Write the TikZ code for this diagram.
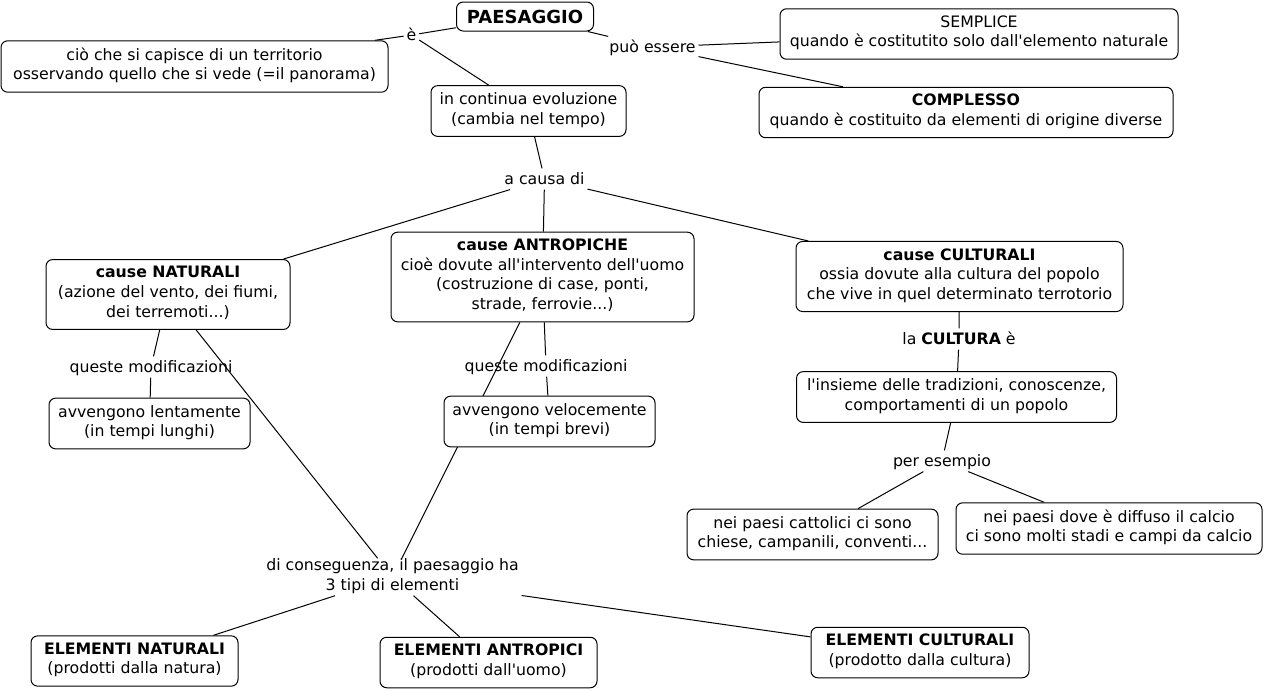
\documentclass[tikz,border=0pt]{standalone}
\usepackage{fontspec}
\setmainfont{DejaVu Sans}[Ligatures=TeXOff]
\usepackage{tikz}
\usetikzlibrary{backgrounds}

\newcommand{\mapstrut}{\rule[-4pt]{0pt}{15.5pt}}
\tikzset{
  concept/.style={draw, fill=white, rounded corners=5pt, line width=0.75pt,
    align=center, inner xsep=6pt, inner ysep=5.2pt,
    font=\fontsize{11.8pt}{14.7pt}\selectfont,
    execute at begin node=\mapstrut, execute at end node=\mapstrut},
  rootconcept/.style={draw, fill=white, rounded corners=5pt, line width=0.75pt,
    inner sep=0pt, minimum width=102.75pt, minimum height=21.75pt,
    font=\fontsize{13.5pt}{16pt}\selectfont\bfseries},
  linkphrase/.style={align=center, inner xsep=2pt, inner ysep=0pt,
    font=\fontsize{11.8pt}{14.7pt}\selectfont,
    execute at begin node=\mapstrut, execute at end node=\mapstrut},
  link/.style={line width=0.75pt}
}

\begin{document}
\begin{tikzpicture}[x=0.75pt, y=-0.75pt]
  \useasboundingbox (0,0) rectangle (1264,690);

  % concetti
  \node[rootconcept] (paes) at (525,16.5) {PAESAGGIO};
  \node[concept, minimum width=290.25pt] (cio) at (194.5,66.5) {ciò che si capisce di un territorio\\osservando quello che si vede (=il panorama)};
  \node[concept, minimum width=146.25pt] (evol) at (528.5,111) {in continua evoluzione\\(cambia nel tempo)};
  \node[concept, minimum width=298.5pt] (sempl) at (979,34) {SEMPLICE\\quando è costitutito solo dall'elemento naturale};
  \node[concept, minimum width=310.5pt] (compl) at (966,112.5) {\textbf{COMPLESSO}\\quando è costituito da elementi di origine diverse};
  \node[concept, minimum width=183pt] (nat) at (168,294.5) {\textbf{cause NATURALI}\\(azione del vento, dei fiumi,\\dei terremoti...)};
  \node[concept, minimum width=227.25pt] (antr) at (542.5,277) {\textbf{cause ANTROPICHE}\\cioè dovute all'intervento dell'uomo\\(costruzione di case, ponti,\\strade, ferrovie...)};
  \node[concept, minimum width=245.25pt] (cult) at (959.5,276.5) {\textbf{cause CULTURALI}\\ossia dovute alla cultura del popolo\\che vive in quel determinato terrotorio};
  \node[concept, minimum width=150.75pt] (lent) at (149.5,423.5) {avvengono lentamente\\(in tempi lunghi)};
  \node[concept, minimum width=158.25pt] (veloc) at (549.5,421.5) {avvengono velocemente\\(in tempi brevi)};
  \node[concept, minimum width=240pt] (insieme) at (956.5,397) {l'insieme delle tradizioni, conoscenze,\\comportamenti di un popolo};
  \node[concept, minimum width=188.25pt] (catt) at (812.5,534.5) {nei paesi cattolici ci sono\\chiese, campanili, conventi...};
  \node[concept, minimum width=229.5pt] (calcio) at (1109,528.5) {nei paesi dove è diffuso il calcio\\ci sono molti stadi e campi da calcio};
  \node[concept, minimum width=155.25pt] (elnat) at (134.5,661) {\textbf{ELEMENTI NATURALI}\\(prodotti dalla natura)};
  \node[concept, minimum width=162.75pt] (elant) at (488.5,662.5) {\textbf{ELEMENTI ANTROPICI}\\(prodotti dall'uomo)};
  \node[concept, minimum width=163.5pt] (elcul) at (920,652.5) {\textbf{ELEMENTI CULTURALI}\\(prodotto dalla cultura)};

  % frasi di collegamento
  \node[linkphrase] (e) at (411.5,35) {è};
  \node[linkphrase] (puo) at (652.5,47) {può essere};
  \node[linkphrase] (causa) at (544.5,179) {a causa di};
  \node[linkphrase] (modnat) at (151,367) {queste modificazioni};
  \node[linkphrase] (modantr) at (546,366) {queste modificazioni};
  \node[linkphrase] (cultura) at (959,339) {la \textbf{CULTURA} è};
  \node[linkphrase] (esempio) at (942,461) {per esempio};
  \node[linkphrase] (conseg) at (392.5,577) {di conseguenza, il paesaggio ha\\3 tipi di elementi};

  \begin{scope}[on background layer]
    \fill[white] (0,0) rectangle (1264,690);
    \draw[link] (paes) -- (e);
    \draw[link] (e) -- (cio);
    \draw[link] (e) -- (evol);
    \draw[link] (paes) -- (puo);
    \draw[link] (puo) -- (sempl);
    \draw[link] (puo) -- (compl);
    \draw[link] (evol) -- (causa);
    \draw[link] (causa) -- (nat);
    \draw[link] (causa) -- (antr);
    \draw[link] (causa) -- (cult);
    \draw[link] (nat) -- (modnat);
    \draw[link] (modnat) -- (lent);
    \draw[link] (antr) -- (modantr);
    \draw[link] (modantr) -- (veloc);
    \draw[link] (cult) -- (cultura);
    \draw[link] (cultura) -- (insieme);
    \draw[link] (insieme) -- (esempio);
    \draw[link] (esempio) -- (catt);
    \draw[link] (esempio) -- (calcio);
    \draw[link] (nat) -- (conseg);
    \draw[link] (antr) -- (conseg);
    \draw[link] (conseg) -- (elnat);
    \draw[link] (conseg) -- (elant);
    \draw[link] (conseg) -- (elcul);
  \end{scope}
\end{tikzpicture}
\end{document}
